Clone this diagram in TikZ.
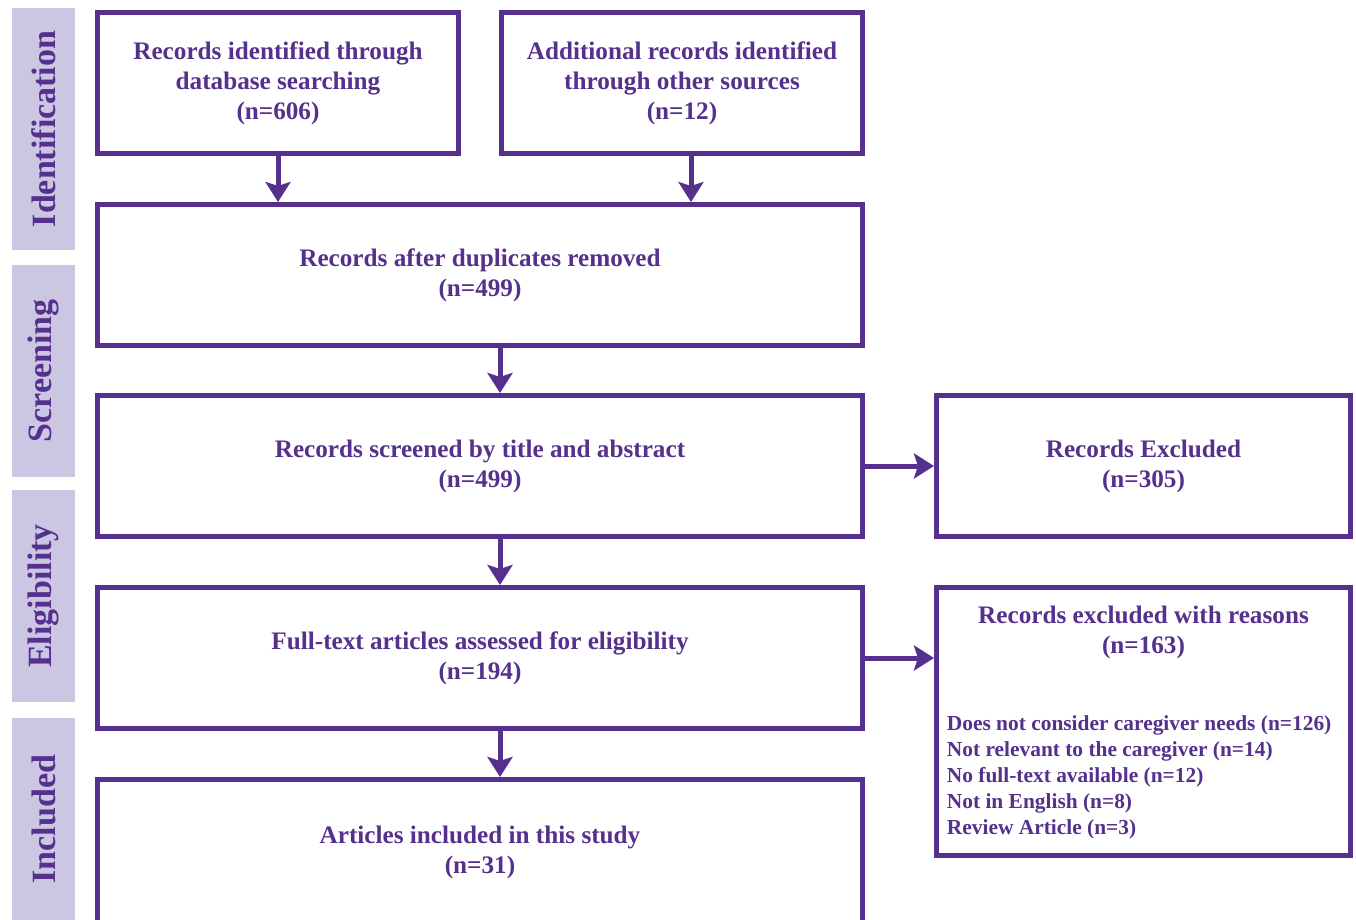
\documentclass[tikz,border=0pt]{standalone}
\usepackage{fontspec}
\setmainfont{Liberation Serif}
\usepackage{xcolor}
\usetikzlibrary{positioning, arrows.meta}
\definecolor{prismapurple}{HTML}{55308D}
\definecolor{prismalav}{HTML}{CBC7E2}
\tikzset{
    box/.style={draw=prismapurple, line width=2.5pt, fill=white, text=prismapurple,
        align=center, minimum width=382.5pt, minimum height=70.5pt, inner sep=0pt,
        font=\fontsize{12.6}{15}\selectfont\bfseries}, % the main boxes
    halfbox/.style={box, minimum width=180.5pt},
    sidebox/.style={box, minimum width=207pt},
    phase/.style={fill=prismalav, text=prismapurple, rotate=90, inner sep=0pt,
        minimum width=121pt, minimum height=31.5pt,
        font=\fontsize{17}{18}\selectfont\bfseries},
}
\tikzstyle{arrow} = [draw=prismapurple, line width=2.5pt, -{Stealth[length=10pt,width=12.5pt,inset=2pt]}]

\begin{document}
\begin{tikzpicture}
                \useasboundingbox (0,0) rectangle (678pt,-460pt);
                % Fasi
                \node[phase] (ident) at (21.75pt,-64.5pt) {Identification};
                \node[phase, minimum width=106pt] (screen) at (21.75pt,-185.5pt) {Screening};
                \node[phase, minimum width=106pt] (elig) at (21.75pt,-298pt) {Eligibility};
                \node[phase, minimum width=101pt] (incl) at (21.75pt,-409.5pt) {Included};

                % Riquadri
                \node[halfbox] (db) at (139pt,-41.5pt) {Records identified through\\database searching\\(n=606)};
                \node[halfbox] (other) [right=19pt of db] {Additional records identified\\through other sources\\(n=12)};
                \node[box] (dup) [below=23pt of db.south west, anchor=north west] {Records after duplicates removed\\(n=499)};
                \node[box] (scr) [below=22.5pt of dup] {Records screened by title and abstract\\(n=499)};
                \node[box] (full) [below=23pt of scr] {Full-text articles assessed for eligibility\\(n=194)};
                \node[box, minimum height=73pt] (inc) [below=23pt of full] {Articles included in this study\\(n=31)};
                \node[sidebox] (exc) [right=34.5pt of scr] {Records Excluded\\(n=305)};
                \node[sidebox, minimum height=134pt] (reas) [right=34.5pt of full.north east, anchor=north west] {};
                \node[text=prismapurple, align=center, font=\fontsize{12.6}{15}\selectfont\bfseries]
                    (reastitle) at ([yshift=-23.75pt]reas.north) {Records excluded with reasons\\(n=163)};
                \node[text=prismapurple, align=left, inner sep=0pt, anchor=west,
                    font=\fontsize{10.7}{13}\selectfont\bfseries]
                    (reaslist) at ([xshift=6.25pt, yshift=-96pt]reas.north west) {Does not consider caregiver needs (n=126)\\Not relevant to the caregiver (n=14)\\No full-text available (n=12)\\Not in English (n=8)\\Review Article (n=3)};

                % Frecce
                \draw[arrow] (db) -- (db |- dup.north);
                \draw[arrow] ([xshift=4.5pt]other.south) -- ([xshift=4.5pt]other.south |- dup.north);
                \draw[arrow] ([xshift=10pt]dup.south) -- ([xshift=10pt]scr.north);
                \draw[arrow] ([xshift=10pt]scr.south) -- ([xshift=10pt]full.north);
                \draw[arrow] ([xshift=10pt]full.south) -- ([xshift=10pt]inc.north);
                \draw[arrow] (scr) -- (exc);
                \draw[arrow] (full.east) -- (full.east -| reas.west);
\end{tikzpicture}
\end{document}
